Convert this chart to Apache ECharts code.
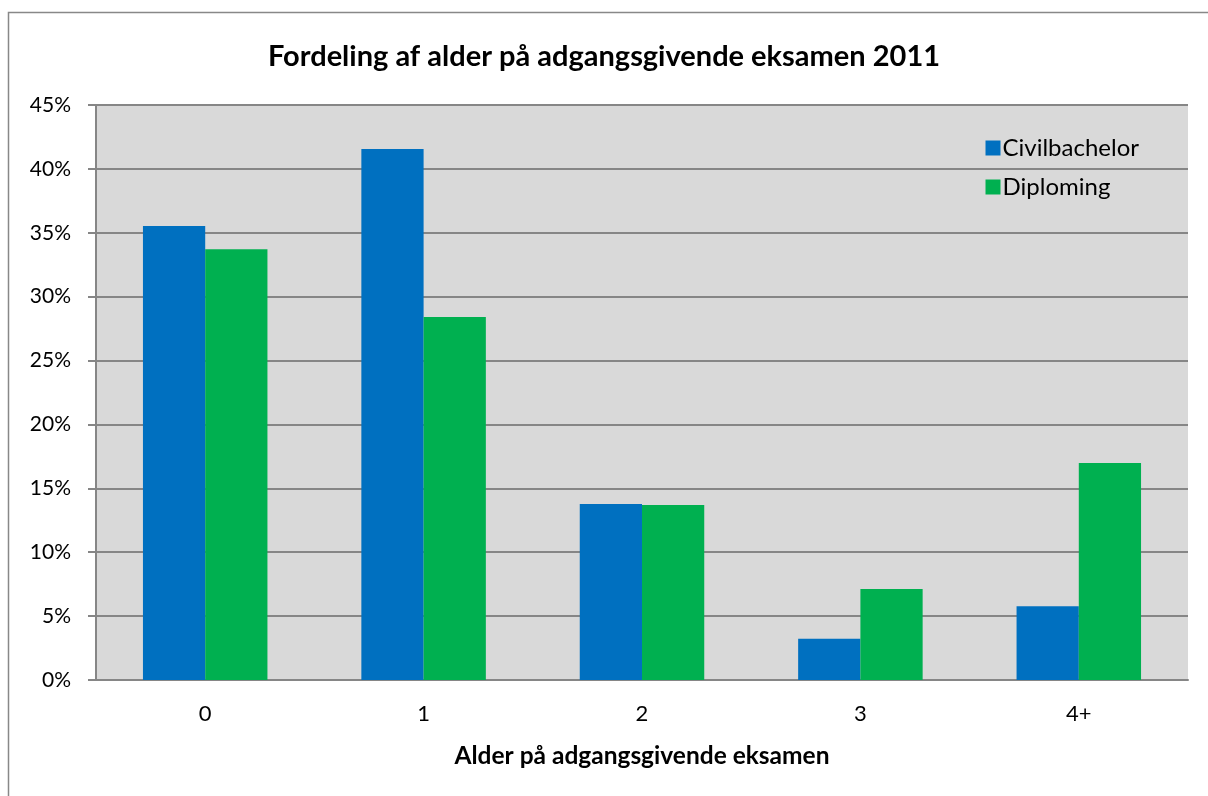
<!DOCTYPE html>
<html><head><meta charset="utf-8">
<script src="https://cdn.jsdelivr.net/npm/echarts@6/dist/echarts.min.js"></script>
<style>html,body{margin:0;padding:0;background:#fff}#c{width:1208px;height:796px}</style>
</head><body><div id="c"></div>
<script>
const categories = ['0', '1', '2', '3', '4+'];
const civilbachelor = [35.53, 41.55, 13.77, 3.23, 5.77];
const diploming = [33.72, 28.40, 13.69, 7.12, 16.98];
const seriesNames = ['Civilbachelor', 'Diploming'];
const titleText = 'Fordeling af alder på adgangsgivende eksamen 2011';
const xAxisName = 'Alder på adgangsgivende eksamen';

const font = 'Lato, "Open Sans", sans-serif';
const chart = echarts.init(document.getElementById('c'), null, {renderer: 'canvas'});
chart.setOption({
  animation: false,
  backgroundColor: '#fff',
  graphic: [{type: 'rect', shape: {x: 8.5, y: 12.5, width: 1400, height: 900}, style: {fill: 'none', stroke: '#888', lineWidth: 1.5}, z: -1}],
  title: {text: titleText, left: 'center', top: 37, textStyle: {fontFamily: font, fontWeight: 'bold', fontSize: 29, color: '#000'}},
  legend: {
    orient: 'vertical', right: 64, top: 131, itemWidth: 15, itemHeight: 15, itemGap: 15,
    icon: 'rect',
    textStyle: {fontFamily: font, fontSize: 24, color: '#000', padding: [0, 0, 0, -3]},
    data: seriesNames
  },
  grid: {left: 96, top: 105, right: 20, bottom: 116, show: true, backgroundColor: '#d9d9d9', borderWidth: 0},
  xAxis: {
    type: 'category', data: categories,
    name: xAxisName, nameLocation: 'middle', nameGap: 64,
    nameTextStyle: {fontFamily: font, fontWeight: 'bold', fontSize: 24.5, color: '#000'},
    axisLine: {lineStyle: {color: '#868686', width: 2}},
    axisTick: {show: false},
    axisLabel: {fontFamily: font, fontSize: 22, color: '#000', margin: 23}
  },
  yAxis: {
    type: 'value', min: 0, max: 45, interval: 5,
    axisLine: {show: true, lineStyle: {color: '#868686', width: 2}},
    axisTick: {show: true, length: 8, lineStyle: {color: '#868686', width: 2}},
    splitLine: {lineStyle: {color: '#868686', width: 2}},
    axisLabel: {fontFamily: font, fontSize: 21, color: '#000', margin: 25, formatter: v => v + '%'}
  },
  series: [
    {name: seriesNames[0], type: 'bar', data: civilbachelor, barGap: '0%', barCategoryGap: '43%', itemStyle: {color: '#0070C0'}},
    {name: seriesNames[1], type: 'bar', data: diploming, barGap: '0%', barCategoryGap: '43%', itemStyle: {color: '#00B050'}}
  ]
});
</script></body></html>
